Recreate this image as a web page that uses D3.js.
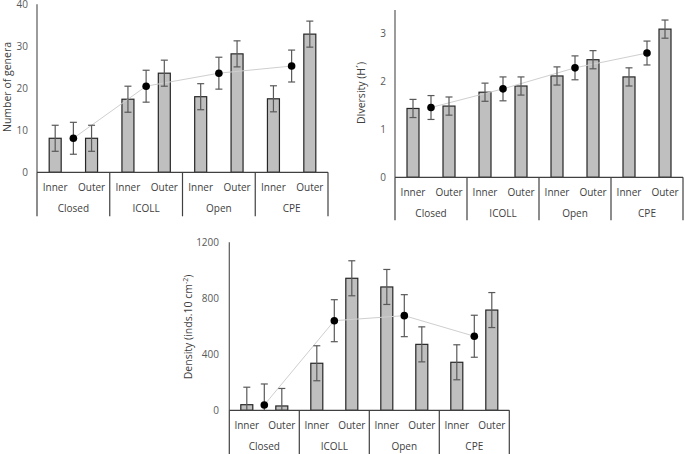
<!DOCTYPE html>
<html>
<head>
<meta charset="utf-8">
<script src="https://cdn.jsdelivr.net/npm/d3@7"></script>
<style>
  body { margin: 0; background: #fff; }
  svg { display: block; font-family: "Open Sans", sans-serif; }
</style>
</head>
<body>
<svg id="fig" width="685" height="454"></svg>
<script>
const groups = ["Closed", "ICOLL", "Open", "CPE"];
const sites = ["Inner", "Outer"];

// number of genera
const generaInner = [8.1, 17.4, 18.0, 17.5];
const generaOuter = [8.1, 23.6, 28.2, 32.9];
const generaMean = [8.1, 20.5, 23.6, 25.3];
const generaErrBar = 3.1;
const generaErrMean = 3.8;

// diversity H'
const divInner = [1.44, 1.78, 2.12, 2.10];
const divOuter = [1.49, 1.91, 2.46, 3.10];
const divMean = [1.46, 1.85, 2.29, 2.60];
const divErrBar = 0.19;
const divErrMean = 0.25;

// density
const densInner = [40, 336, 881, 343];
const densOuter = [31, 943, 471, 716];
const densMean = [38, 640, 676, 529];
const densErrBar = 125;
const densErrMean = 150;

const panels = [
  { left: 37, right: 328, top: 4.3, base: 172.3, max: 40, ticks: [0, 10, 20, 30, 40],
    tickX: 28, label: "Number of genera", labelX: 7, labelY: 87, subDy: 15, grpDy: 36, sepDy: 44,
    inner: generaInner, outer: generaOuter, mean: generaMean, eb: generaErrBar, em: generaErrMean },
  { left: 395, right: 683, top: 10, base: 177.3, max: 3.5, ticks: [0, 1, 2, 3],
    tickX: 386, label: "DIversity (H\u00b4)", labelX: 361, labelY: 93, subDy: 15, grpDy: 36, sepDy: 43,
    inner: divInner, outer: divOuter, mean: divMean, eb: divErrBar, em: divErrMean },
  { left: 229.3, right: 509.3, top: 242.3, base: 410.3, max: 1200, ticks: [0, 400, 800, 1200],
    tickX: 219, label: null, labelX: 188, labelY: 327, subDy: 15, grpDy: 36, sepDy: 44,
    inner: densInner, outer: densOuter, mean: densMean, eb: densErrBar, em: densErrMean }
];

const svg = d3.select("#fig");
const barW = 12, capW = 7;

panels.forEach((p) => {
  const x = d3.scaleBand().domain(groups).range([p.left, p.right]).padding(0);
  const y = d3.scaleLinear().domain([0, p.max]).range([p.base, p.top]);
  const bw = x.bandwidth();
  const g = svg.append("g");

  // y tick labels
  g.selectAll(".yt").data(p.ticks).enter().append("text")
    .attr("x", p.tickX).attr("y", (d) => y(d)).attr("dy", "0.35em")
    .attr("text-anchor", "end").attr("font-size", 10).attr("fill", "#595959")
    .text((d) => d);

  // y axis line
  g.append("line").attr("x1", p.left).attr("x2", p.left)
    .attr("y1", p.top).attr("y2", p.base).attr("stroke", "#595959").attr("stroke-width", 1.2);

  // y label
  const lab = g.append("text")
    .attr("transform", `translate(${p.labelX},${p.labelY}) rotate(-90)`)
    .attr("text-anchor", "middle").attr("dy", "0.35em")
    .attr("font-size", 10.5).attr("fill", "#404040");
  if (p.label) {
    lab.text(p.label);
  } else {
    lab.append("tspan").text("Density (inds.10 cm");
    lab.append("tspan").attr("font-size", 7).attr("baseline-shift", "super").text("-2");
    lab.append("tspan").text(")");
  }

  // bars
  const bars = [];
  groups.forEach((grp, i) => {
    bars.push({ grp, pos: 0.25, v: p.inner[i] });
    bars.push({ grp, pos: 0.75, v: p.outer[i] });
  });
  const means = groups.map((grp, i) => ({ grp, pos: 0.5, v: p.mean[i] }));
  const cx = (d) => x(d.grp) + bw * d.pos;

  g.selectAll(".bar").data(bars).enter().append("rect")
    .attr("x", (d) => cx(d) - barW / 2).attr("width", barW)
    .attr("y", (d) => y(d.v)).attr("height", (d) => p.base - y(d.v))
    .attr("fill", "#bfbfbf").attr("stroke", "#262626").attr("stroke-width", 1.2);

  // line through means
  g.append("path").datum(means)
    .attr("d", d3.line().x(cx).y((d) => y(d.v)))
    .attr("fill", "none").attr("stroke", "#cfcfcf").attr("stroke-width", 1);

  // error bars
  const errs = bars.map((d) => ({ ...d, e: p.eb })).concat(means.map((d) => ({ ...d, e: p.em })));
  const eg = g.selectAll(".err").data(errs).enter().append("g")
    .attr("stroke", "#595959").attr("stroke-width", 1.2);
  eg.append("line").attr("x1", cx).attr("x2", cx)
    .attr("y1", (d) => y(d.v + d.e)).attr("y2", (d) => Math.min(p.base, y(d.v - d.e)));
  eg.append("line").attr("x1", (d) => cx(d) - capW / 2).attr("x2", (d) => cx(d) + capW / 2)
    .attr("y1", (d) => y(d.v + d.e)).attr("y2", (d) => y(d.v + d.e));
  eg.filter((d) => d.v - d.e >= 0).append("line")
    .attr("x1", (d) => cx(d) - capW / 2).attr("x2", (d) => cx(d) + capW / 2)
    .attr("y1", (d) => y(d.v - d.e)).attr("y2", (d) => y(d.v - d.e));

  // mean dots
  g.selectAll(".dot").data(means).enter().append("circle")
    .attr("cx", cx).attr("cy", (d) => y(d.v)).attr("r", 3.8).attr("fill", "#000");

  // category axis
  g.append("line").attr("x1", p.left).attr("x2", p.right)
    .attr("y1", p.base).attr("y2", p.base).attr("stroke", "#404040").attr("stroke-width", 1.2);
  const seps = groups.map((grp) => x(grp)).concat([p.right]);
  g.selectAll(".sep").data(seps).enter().append("line")
    .attr("x1", (d) => d).attr("x2", (d) => d)
    .attr("y1", p.base).attr("y2", p.base + p.sepDy)
    .attr("stroke", "#404040").attr("stroke-width", 1.2);

  const subs = [];
  groups.forEach((grp) => sites.forEach((s, j) => subs.push({ grp, pos: j ? 0.75 : 0.25, s })));
  g.selectAll(".sub").data(subs).enter().append("text")
    .attr("x", cx).attr("y", p.base + p.subDy).attr("dy", "0.35em")
    .attr("text-anchor", "middle").attr("font-size", 10).attr("fill", "#404040")
    .text((d) => d.s);
  g.selectAll(".grp").data(groups).enter().append("text")
    .attr("x", (d) => x(d) + bw / 2).attr("y", p.base + p.grpDy).attr("dy", "0.35em")
    .attr("text-anchor", "middle").attr("font-size", 10).attr("fill", "#404040")
    .text((d) => d);
});
</script>
</body>
</html>
